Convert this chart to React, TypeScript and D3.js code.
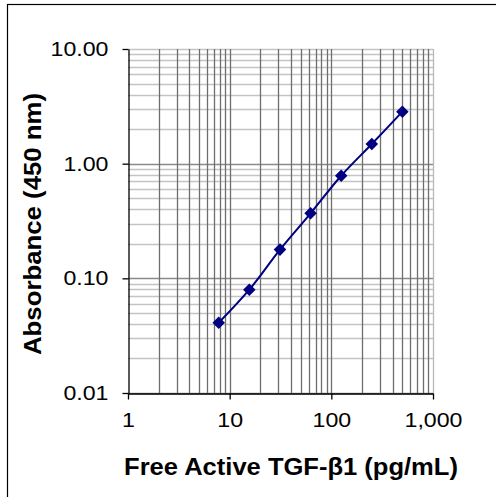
import React, { useEffect, useRef } from "react";
import * as d3 from "d3";

const concentrations = [7.8, 15.6, 31.25, 62.5, 125, 250, 500];
const absorbance = [0.041, 0.0796, 0.178, 0.369, 0.785, 1.485, 2.84];
const xTickValues = [1, 10, 100, 1000];
const yTickValues = [0.01, 0.1, 1, 10];
const xTitle = "Free Active TGF-β1 (pg/mL)";
const yTitle = "Absorbance (450 nm)";

function stretch(sel: any, k: number) {
  sel.each(function (this: SVGTextElement) {
    const len = this.getComputedTextLength();
    if (len > 0) {
      this.setAttribute("textLength", String(len * k));
      this.setAttribute("lengthAdjust", "spacingAndGlyphs");
    }
  });
}

export default function App() {
  const ref = useRef<SVGSVGElement>(null);
  useEffect(() => {
    const svg = d3.select(ref.current);
    svg.selectAll("*").remove();
    const W = 496, H = 497;
    const left = 128, right = 433, top = 49, bottom = 393;
    const x = d3.scaleLog().domain([1, 1000]).range([left, right]);
    const y = d3.scaleLog().domain([0.01, 10]).range([bottom, top]);

    svg.append("rect").attr("width", W).attr("height", H).attr("fill", "#fff");
    svg.append("rect").attr("x", 7.5).attr("y", 4.5).attr("width", 700).attr("height", 700)
      .attr("fill", "none").attr("stroke", "#000").attr("stroke-width", 1.2);

    const g = svg.append("g");
    const yMajor = new Set(yTickValues.map((v) => +v.toFixed(4)));
    y.ticks().forEach((v) => {
      const major = yMajor.has(+v.toFixed(4)) && v !== 10;
      g.append("line").attr("x1", left).attr("x2", right)
        .attr("y1", Math.round(y(v)) + 0.5).attr("y2", Math.round(y(v)) + 0.5)
        .attr("stroke", major ? "#8a8a8a" : "#c4c4c4").attr("stroke-width", 1.3);
    });
    x.ticks().forEach((v) => {
      if (v === 1) return;
      g.append("line").attr("y1", top).attr("y2", bottom)
        .attr("x1", Math.round(x(v)) + 0.5).attr("x2", Math.round(x(v)) + 0.5)
        .attr("stroke", v === 1000 ? "#b8b8b8" : "#6e6e6e").attr("stroke-width", 1.3);
    });

    const font = "Arial, 'Liberation Sans', sans-serif";
    const yAxis = svg.append("g").attr("transform", `translate(${left + 0.5},0)`)
      .call(d3.axisLeft(y).tickValues(yTickValues).tickFormat(d3.format(".2f") as any)
        .tickSizeInner(6).tickSizeOuter(0).tickPadding(14));
    const xAxis = svg.append("g").attr("transform", `translate(0,${bottom + 0.5})`)
      .call(d3.axisBottom(x).tickValues(xTickValues).tickFormat(d3.format(",") as any)
        .tickSizeInner(6).tickSizeOuter(0).tickPadding(13));
    [yAxis, xAxis].forEach((a) => {
      a.select(".domain").attr("stroke", "#000").attr("stroke-width", 1.3);
      a.selectAll(".tick line").attr("stroke", "#000").attr("stroke-width", 1.3);
      const t = a.selectAll(".tick text").attr("font-family", font).attr("font-size", 20.5).attr("fill", "#000");
      stretch(t, 1.13);
    });

    const line = d3.line<number>()
      .x((_, i) => x(concentrations[i]))
      .y((d) => y(d))
      .curve(d3.curveCatmullRom.alpha(0.5));
    svg.append("path").datum(absorbance).attr("d", line).attr("fill", "none")
      .attr("stroke", "#000080").attr("stroke-width", 2);

    const sym = d3.symbol().type(d3.symbolDiamond2).size(100);
    svg.selectAll(".pt").data(absorbance).enter().append("path")
      .attr("transform", (d, i) => `translate(${x(concentrations[i])},${y(d)})`)
      .attr("d", sym() as string).attr("fill", "#000080");

    const xt = svg.append("text").attr("x", 291).attr("y", 475).attr("text-anchor", "middle")
      .attr("font-family", font).attr("font-weight", "bold").attr("font-size", 23)
      .text(xTitle);
    stretch(xt, 1.11);
    const yt = svg.append("text").attr("transform", "translate(41,224) rotate(-90)").attr("text-anchor", "middle")
      .attr("font-family", font).attr("font-weight", "bold").attr("font-size", 23)
      .text(yTitle);
    stretch(yt, 1.12);
  }, []);
  return (
    <svg ref={ref} width={496} height={497}
      style={{ position: "absolute", left: 0, top: 0, display: "block" }} />
  );
}
